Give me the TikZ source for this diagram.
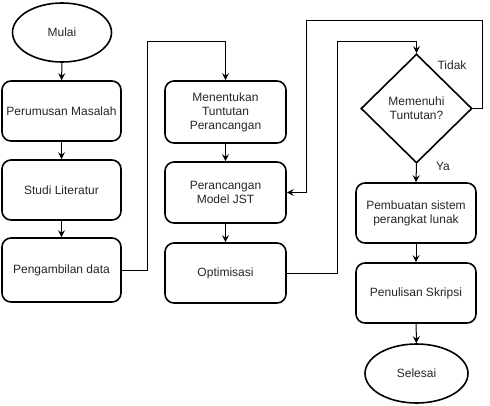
\documentclass[tikz,border=0pt]{standalone}
\usepackage{fontspec}
\setmainfont{Liberation Sans}
\usetikzlibrary{shapes.geometric,arrows.meta}
\begin{document}
\begin{tikzpicture}[x=1pt,y=-1pt,
  every node/.style={font=\fontsize{12}{14}\selectfont, text=black!85},
  procbox/.style={draw, line width=1.6pt, rounded corners=9pt, align=center, inner sep=0pt},
  terminal/.style={draw, ellipse, line width=1.6pt, inner sep=0pt, align=center},
  decision/.style={draw, diamond, line width=1.6pt, inner sep=0pt, aspect=1, align=center},
  arr/.style={line width=1pt, -{Stealth[length=7pt,width=7pt,inset=2.5pt]}},
  lab/.style={inner sep=1pt}
]
\useasboundingbox (0,0) rectangle (490,405);
\node[terminal, minimum width=99pt, minimum height=59pt] (mulai) at (62,32.5) {Mulai};
\node[procbox, minimum width=119pt, minimum height=60pt] (b1) at (61.5,111) {Perumusan Masalah};
\node[procbox, minimum width=119pt, minimum height=60pt] (b2) at (61.5,190) {Studi Literatur};
\node[procbox, minimum width=119pt, minimum height=64pt] (b3) at (61.5,270) {Pengambilan data};
\node[procbox, minimum width=121pt, minimum height=62pt] (b4) at (225.5,112) {Menentukan\\Tuntutan\\Perancangan};
\node[procbox, minimum width=121pt, minimum height=61pt] (b5) at (225.5,192.5) {Perancangan\\Model JST};
\node[procbox, minimum width=121pt, minimum height=60pt] (b6) at (225.5,273) {Optimisasi};
\node[decision, minimum width=111pt, minimum height=109pt] (d) at (416.5,108.5) {Memenuhi\\Tuntutan?};
\node[procbox, minimum width=120pt, minimum height=60pt] (b7) at (416,213) {Pembuatan sistem\\perangkat lunak};
\node[procbox, minimum width=120pt, minimum height=60pt] (b8) at (416,293) {Penulisan Skripsi};
\node[terminal, minimum width=103pt, minimum height=59pt] (selesai) at (416.5,373.5) {Selesai};

\coordinate (c1) at (147,41);
\coordinate (c2) at (337,41);
\coordinate (c3) at (482,20);
\coordinate (c4) at (306,20);

\draw[arr] (mulai) -- (b1);
\draw[arr] (b1) -- (b2);
\draw[arr] (b2) -- (b3);
\draw[arr] (b3.east) -| (c1) -| (b4.north);
\draw[arr] (b4) -- (b5);
\draw[arr] (b5) -- (b6);
\draw[arr] (b6.east) -| (c2) -| (d.north);
\draw[arr] (d.east) -| (c3) -- (c4) |- (b5.east);
\draw[arr] (d.south) -- (b7.north);
\draw[arr] (b7) -- (b8);
\draw[arr] (b8) -- (selesai);

\node[lab] (tidak) at (452,65) {Tidak};
\node[lab] (ya) at (443,166) {Ya};
\end{tikzpicture}
\end{document}
